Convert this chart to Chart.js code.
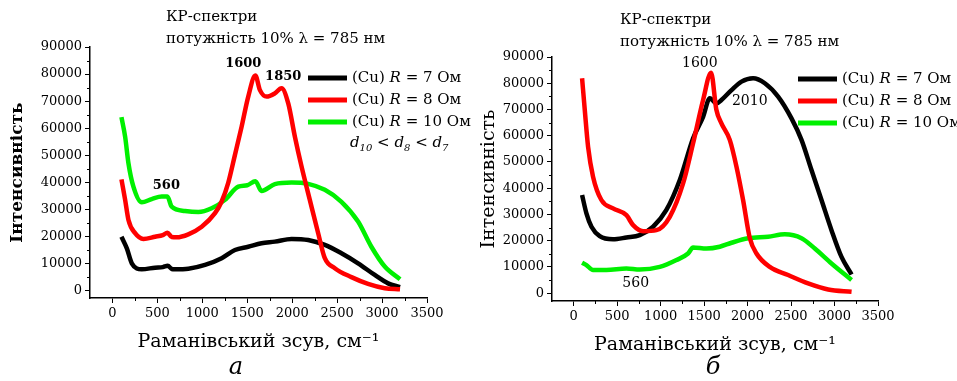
<!DOCTYPE html>
<html>
<head>
<meta charset="utf-8">
<script src="https://cdn.jsdelivr.net/npm/chart.js@4.4.1/dist/chart.umd.min.js"></script>
<style>
  body { margin: 0; background: #fff; }
  #wrap { position: relative; width: 957px; height: 381px; }
  canvas { position: absolute; top: 0; }
</style>
</head>
<body>
<div id="wrap">
  <canvas id="chartA" width="478" height="381" style="left:0"></canvas>
  <canvas id="chartB" width="479" height="381" style="left:478px"></canvas>
</div>
<script>
// panel a
var shiftA7 = [100, 160, 215, 326, 474, 560, 615, 660, 696, 844, 1030, 1215, 1363, 1511, 1659, 1807, 1993, 2178, 2363, 2548, 2733, 2919, 3067, 3200];
var intA7 = [20000, 15700, 10200, 8000, 8600, 8800, 9300, 8100, 8000, 8200, 9600, 12100, 15100, 16300, 17600, 18200, 19200, 18800, 17000, 13900, 10200, 5900, 2800, 1400];

var shiftA8 = [100, 141, 178, 252, 344, 474, 560, 611, 660, 715, 844, 993, 1141, 1215, 1289, 1363, 1437, 1511, 1590, 1641, 1715, 1807, 1881, 1956, 2030, 2104, 2196, 2289, 2363, 2474, 2659, 2844, 3030, 3200];
var intA8 = [41200, 33600, 26200, 21300, 19200, 20000, 20600, 21500, 19900, 19800, 20900, 23700, 28700, 33000, 40000, 50200, 60600, 71700, 79500, 74100, 71700, 72900, 74800, 69200, 56900, 45900, 33600, 21300, 12100, 8400, 5100, 2600, 1000, 600];

var shiftA10 = [100, 141, 178, 233, 326, 437, 548, 611, 659, 807, 956, 1104, 1252, 1400, 1500, 1590, 1659, 1807, 1993, 2178, 2363, 2548, 2733, 2881, 3030, 3200];
var intA10 = [64100, 56900, 47100, 38500, 32700, 33900, 34800, 34800, 31100, 29500, 29100, 30500, 33600, 38500, 39000, 40500, 36900, 39400, 40000, 39500, 37300, 32900, 25600, 16300, 9000, 4300];

// panel b
var shiftB7 = [96, 146, 204, 299, 452, 606, 759, 913, 1066, 1220, 1373, 1488, 1565, 1642, 1699, 1815, 1930, 2063, 2198, 2351, 2505, 2620, 2735, 2850, 2965, 3080, 3196];
var intB7 = [37400, 30400, 25300, 21700, 20500, 21200, 22100, 25300, 31700, 43100, 59000, 67200, 74300, 72300, 73600, 77400, 80600, 81900, 80000, 74900, 66600, 58400, 46900, 35500, 24000, 13800, 7100];

var shiftB8 = [96, 127, 165, 222, 318, 452, 606, 683, 798, 951, 1105, 1258, 1373, 1488, 1580, 1640, 1699, 1795, 1872, 1948, 2025, 2102, 2255, 2466, 2696, 2927, 3196];
var intB8 = [81900, 69800, 55800, 44400, 35500, 32300, 29700, 25900, 23600, 24000, 29100, 41800, 57100, 73600, 84000, 70000, 64700, 58400, 48200, 35500, 21000, 15100, 10000, 6900, 3700, 1400, 500];

var shiftB10 = [96, 146, 222, 376, 606, 759, 990, 1182, 1315, 1373, 1527, 1680, 1815, 2006, 2236, 2428, 2620, 2773, 2965, 3196];
var intB10 = [11600, 10700, 8800, 8800, 9400, 9000, 10000, 12600, 15100, 17400, 17000, 17700, 19200, 20900, 21500, 22400, 20900, 17000, 11300, 5000];

var seriesNames = ["7", "8", "10"];
var seriesColors = ["#000000", "#ff0000", "#00f000"];
var xTickValues = [0, 500, 1000, 1500, 2000, 2500, 3000, 3500];
var yTickValues = [0, 10000, 20000, 30000, 40000, 50000, 60000, 70000, 80000, 90000];

var serif = "'DejaVu Serif', 'Liberation Serif', serif";

function pts(xs, ys) {
    return xs.map(function (x, i) { return { x: x, y: ys[i] }; });
}

function makeDatasets(s7, i7, s8, i8, s10, i10) {
    var drawOrder = [2, 0, 1];
    return [[s7, i7], [s8, i8], [s10, i10]].map(function (d, i) {
        return {
            label: "(Cu) R = " + seriesNames[i] + " Ом",
            data: pts(d[0], d[1]),
            borderColor: seriesColors[i],
            backgroundColor: seriesColors[i],
            borderWidth: 4.5,
            pointRadius: 0,
            cubicInterpolationMode: "monotone",
            order: drawOrder[i]
        };
    });
}

// extra text, legend and minor ticks
var panelText = {
    id: "panelText",
    afterDraw: function (chart, args, opts) {
        var ctx = chart.ctx;
        var xs = chart.scales.x, ys = chart.scales.y;
        var area = chart.chartArea;
        ctx.save();
        ctx.strokeStyle = "#000";
        ctx.fillStyle = "#000";
        ctx.lineWidth = 1;
        ctx.beginPath();
        for (var i = 0; i < xTickValues.length - 1; i++) {
            var px = Math.round(xs.getPixelForValue((xTickValues[i] + xTickValues[i + 1]) / 2)) + 0.5;
            ctx.moveTo(px, area.bottom);
            ctx.lineTo(px, area.bottom + 3);
        }
        for (var j = 0; j < yTickValues.length - 1; j++) {
            var py = Math.round(ys.getPixelForValue((yTickValues[j] + yTickValues[j + 1]) / 2)) + 0.5;
            ctx.moveTo(area.left, py);
            ctx.lineTo(area.left - 3, py);
        }
        ctx.stroke();

        ctx.textBaseline = "middle";
        ctx.textAlign = "left";
        ctx.font = "15px " + serif;
        ctx.fillText("КР-спектри", opts.headX, opts.headY);
        ctx.fillText("потужність 10% λ = 785 нм", opts.headX, opts.headY + 22);

        ctx.textAlign = "center";
        opts.peaks.forEach(function (p) {
            ctx.font = opts.peakFont;
            ctx.fillText(p.text, xs.getPixelForValue(p.x), ys.getPixelForValue(p.y));
        });

        // legend
        chart.data.datasets.forEach(function (ds, k) {
            var y = opts.legY + k * 22;
            ctx.strokeStyle = ds.borderColor;
            ctx.lineWidth = 5;
            ctx.beginPath();
            ctx.moveTo(opts.legX, y);
            ctx.lineTo(opts.legX + 39, y);
            ctx.stroke();
            var tx = opts.legX + 44;
            ctx.textAlign = "left";
            ctx.font = "15px " + serif;
            ctx.fillText("(Cu) ", tx, y);
            tx += ctx.measureText("(Cu) ").width;
            ctx.font = "italic 15px " + serif;
            ctx.fillText("R", tx, y);
            tx += ctx.measureText("R").width;
            ctx.font = "15px " + serif;
            ctx.fillText(" = " + seriesNames[k] + " Ом", tx, y);
        });

        if (opts.relation) {
            var rx = opts.legX + 42, ry = opts.legY + 69;
            var parts = [["d", "10"], [" < ", null], ["d", "8"], [" < ", null], ["d", "7"]];
            ctx.textBaseline = "alphabetic";
            parts.forEach(function (p) {
                if (p[1] === null) {
                    ctx.font = "15px " + serif;
                    ctx.fillText(p[0], rx, ry);
                    rx += ctx.measureText(p[0]).width;
                } else {
                    ctx.font = "italic 15px " + serif;
                    ctx.fillText(p[0], rx, ry);
                    rx += ctx.measureText(p[0]).width;
                    ctx.font = "italic 10px " + serif;
                    ctx.fillText(p[1], rx, ry + 4);
                    rx += ctx.measureText(p[1]).width;
                }
            });
        }

        ctx.textBaseline = "middle";
        ctx.textAlign = "center";
        ctx.font = "italic 24px " + serif;
        ctx.fillText(opts.letter, opts.letterX, 368);
        ctx.restore();
    }
};

function makeOptions(pad, yMin, yWidth, yTitleWeight, text) {
    return {
        responsive: false,
        animation: false,
        layout: { padding: pad },
        plugins: {
            legend: { display: false },
            tooltip: { enabled: false },
            panelText: text
        },
        scales: {
            x: {
                type: "linear",
                min: -250,
                max: 3500,
                afterBuildTicks: function (s) { s.ticks = xTickValues.map(function (v) { return { value: v }; }); },
                ticks: { color: "#000", padding: 3, maxRotation: 0, autoSkip: false, callback: function (v) { return String(v); }, font: { family: serif, size: 13 } },
                grid: { drawOnChartArea: false, tickLength: 5, color: "#000" },
                border: { color: "#000", width: 1.5 },
                title: { display: true, text: "Раманівський зсув, см⁻¹", color: "#000", padding: { top: 0, bottom: 4 }, font: { family: serif, size: 19 } },
                afterFit: function (s) { s.height = 59; }
            },
            y: {
                min: yMin,
                max: 90000,
                afterBuildTicks: function (s) { s.ticks = yTickValues.map(function (v) { return { value: v }; }); },
                ticks: { color: "#000", padding: 3, autoSkip: false, callback: function (v) { return String(v); }, font: { family: serif, size: 13 } },
                grid: { drawOnChartArea: false, tickLength: 5, color: "#000" },
                border: { color: "#000", width: 1.5 },
                title: { display: true, text: "Інтенсивність", color: "#000", padding: { top: 0, bottom: 0 }, font: { family: serif, size: yTitleWeight === "bold" ? 17 : 19, weight: yTitleWeight } },
                afterFit: function (s) { s.width = yWidth; }
            }
        }
    };
}

document.addEventListener("DOMContentLoaded", function () {
    new Chart("chartA", {
        type: "line",
        data: { datasets: makeDatasets(shiftA7, intA7, shiftA8, intA8, shiftA10, intA10) },
        options: makeOptions({ left: 7, top: 47, right: 51, bottom: 24 }, -2600, 83, "bold", {
            headX: 166, headY: 17,
            peakFont: "bold 13px " + serif,
            peaks: [
                { text: "1600", x: 1455, y: 84000 },
                { text: "1850", x: 1900, y: 78900 },
                { text: "560", x: 600, y: 38700 }
            ],
            legX: 308, legY: 78, relation: true,
            letter: "a", letterX: 236
        }),
        plugins: [panelText]
    });

    new Chart("chartB", {
        type: "line",
        data: { datasets: makeDatasets(shiftB7, intB7, shiftB8, intB8, shiftB10, intB10) },
        options: makeOptions({ left: 0, top: 57, right: 79, bottom: 21 }, -3000, 74, "normal", {
            headX: 142, headY: 20,
            peakFont: "14px " + serif,
            peaks: [
                { text: "1600", x: 1450, y: 87700 },
                { text: "2010", x: 2025, y: 73200 },
                { text: "560", x: 713, y: 3800 }
            ],
            legX: 320, legY: 79, relation: false,
            letter: "б", letterX: 235
        }),
        plugins: [panelText]
    });
});
</script>
</body>
</html>
